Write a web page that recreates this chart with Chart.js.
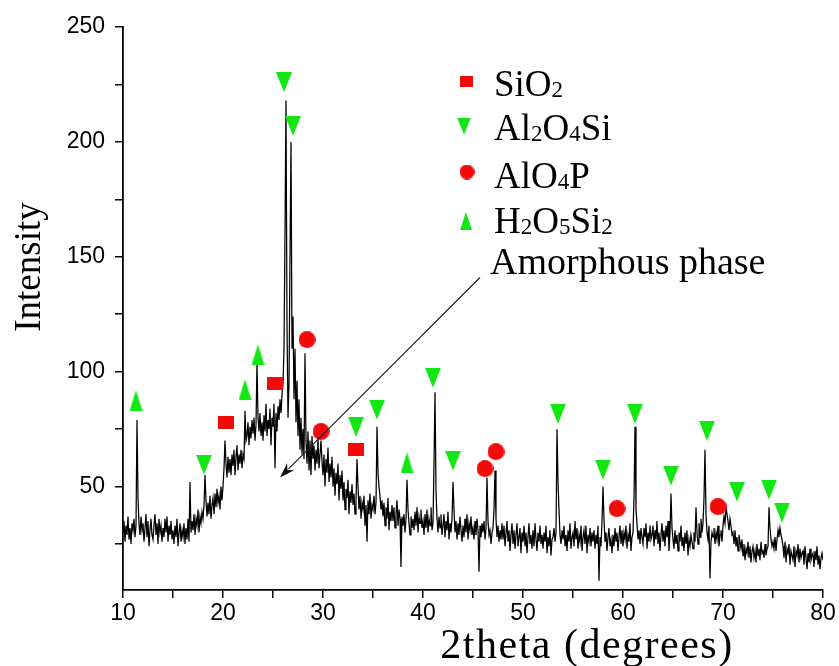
<!DOCTYPE html>
<html><head><meta charset="utf-8">
<script src="https://cdn.jsdelivr.net/npm/chart.js@4.4.1/dist/chart.umd.min.js"></script>
<style>html,body{margin:0;padding:0;background:#fff}canvas{display:block}</style>
</head><body>
<canvas id="c" width="839" height="666"></canvas>
<script>
// ---- data ----
const twoTheta = [
10,10.1,10.2,10.3,10.4,10.5,10.6,10.7,10.8,10.9, 11,11.1,11.2,11.3,11.4,11.5,11.6,11.7,11.8,11.9,
12,12.1,12.2,12.3,12.4,12.5,12.6,12.7,12.8,12.9, 13,13.1,13.2,13.3,13.4,13.5,13.6,13.7,13.8,13.9,
14,14.1,14.2,14.3,14.4,14.5,14.6,14.7,14.8,14.9, 15,15.1,15.2,15.3,15.4,15.5,15.6,15.7,15.8,15.9,
16,16.1,16.2,16.3,16.4,16.5,16.6,16.7,16.8,16.9, 17,17.1,17.2,17.3,17.4,17.5,17.6,17.7,17.8,17.9,
18,18.1,18.2,18.3,18.4,18.5,18.6,18.7,18.8,18.9, 19,19.1,19.2,19.3,19.4,19.5,19.6,19.7,19.8,19.9,
20,20.1,20.2,20.3,20.4,20.5,20.6,20.7,20.8,20.9, 21,21.1,21.2,21.3,21.4,21.5,21.6,21.7,21.8,21.9,
22,22.1,22.2,22.3,22.4,22.5,22.6,22.7,22.8,22.9, 23,23.1,23.2,23.3,23.4,23.5,23.6,23.7,23.8,23.9,
24,24.1,24.2,24.3,24.4,24.5,24.6,24.7,24.8,24.9, 25,25.1,25.2,25.3,25.4,25.5,25.6,25.7,25.8,25.9,
26,26.1,26.2,26.3,26.4,26.5,26.6,26.7,26.8,26.9, 27,27.1,27.2,27.3,27.4,27.5,27.6,27.7,27.8,27.9,
28,28.1,28.2,28.3,28.4,28.5,28.6,28.7,28.8,28.9, 29,29.1,29.2,29.3,29.4,29.5,29.6,29.7,29.8,29.9,
30,30.1,30.2,30.3,30.4,30.5,30.6,30.7,30.8,30.9, 31,31.1,31.2,31.3,31.4,31.5,31.6,31.7,31.8,31.9,
32,32.1,32.2,32.3,32.4,32.5,32.6,32.7,32.8,32.9, 33,33.1,33.2,33.3,33.4,33.5,33.6,33.7,33.8,33.9,
34,34.1,34.2,34.3,34.4,34.5,34.6,34.7,34.8,34.9, 35,35.1,35.2,35.3,35.4,35.5,35.6,35.7,35.8,35.9,
36,36.1,36.2,36.3,36.4,36.5,36.6,36.7,36.8,36.9, 37,37.1,37.2,37.3,37.4,37.5,37.6,37.7,37.8,37.9,
38,38.1,38.2,38.3,38.4,38.5,38.6,38.7,38.8,38.9, 39,39.1,39.2,39.3,39.4,39.5,39.6,39.7,39.8,39.9,
40,40.1,40.2,40.3,40.4,40.5,40.6,40.7,40.8,40.9, 41,41.1,41.2,41.3,41.4,41.5,41.6,41.7,41.8,41.9,
42,42.1,42.2,42.3,42.4,42.5,42.6,42.7,42.8,42.9, 43,43.1,43.2,43.3,43.4,43.5,43.6,43.7,43.8,43.9,
44,44.1,44.2,44.3,44.4,44.5,44.6,44.7,44.8,44.9, 45,45.1,45.2,45.3,45.4,45.5,45.6,45.7,45.8,45.9,
46,46.1,46.2,46.3,46.4,46.5,46.6,46.7,46.8,46.9, 47,47.1,47.2,47.3,47.4,47.5,47.6,47.7,47.8,47.9,
48,48.1,48.2,48.3,48.4,48.5,48.6,48.7,48.8,48.9, 49,49.1,49.2,49.3,49.4,49.5,49.6,49.7,49.8,49.9,
50,50.1,50.2,50.3,50.4,50.5,50.6,50.7,50.8,50.9, 51,51.1,51.2,51.3,51.4,51.5,51.6,51.7,51.8,51.9,
52,52.1,52.2,52.3,52.4,52.5,52.6,52.7,52.8,52.9, 53,53.1,53.2,53.3,53.4,53.5,53.6,53.7,53.8,53.9,
54,54.1,54.2,54.3,54.4,54.5,54.6,54.7,54.8,54.9, 55,55.1,55.2,55.3,55.4,55.5,55.6,55.7,55.8,55.9,
56,56.1,56.2,56.3,56.4,56.5,56.6,56.7,56.8,56.9, 57,57.1,57.2,57.3,57.4,57.5,57.6,57.7,57.8,57.9,
58,58.1,58.2,58.3,58.4,58.5,58.6,58.7,58.8,58.9, 59,59.1,59.2,59.3,59.4,59.5,59.6,59.7,59.8,59.9,
60,60.1,60.2,60.3,60.4,60.5,60.6,60.7,60.8,60.9, 61,61.1,61.2,61.3,61.4,61.5,61.6,61.7,61.8,61.9,
62,62.1,62.2,62.3,62.4,62.5,62.6,62.7,62.8,62.9, 63,63.1,63.2,63.3,63.4,63.5,63.6,63.7,63.8,63.9,
64,64.1,64.2,64.3,64.4,64.5,64.6,64.7,64.8,64.9, 65,65.1,65.2,65.3,65.4,65.5,65.6,65.7,65.8,65.9,
66,66.1,66.2,66.3,66.4,66.5,66.6,66.7,66.8,66.9, 67,67.1,67.2,67.3,67.4,67.5,67.6,67.7,67.8,67.9,
68,68.1,68.2,68.3,68.4,68.5,68.6,68.7,68.8,68.9, 69,69.1,69.2,69.3,69.4,69.5,69.6,69.7,69.8,69.9,
70,70.1,70.2,70.3,70.4,70.5,70.6,70.7,70.8,70.9, 71,71.1,71.2,71.3,71.4,71.5,71.6,71.7,71.8,71.9,
72,72.1,72.2,72.3,72.4,72.5,72.6,72.7,72.8,72.9, 73,73.1,73.2,73.3,73.4,73.5,73.6,73.7,73.8,73.9,
74,74.1,74.2,74.3,74.4,74.5,74.6,74.7,74.8,74.9, 75,75.1,75.2,75.3,75.4,75.5,75.6,75.7,75.8,75.9,
76,76.1,76.2,76.3,76.4,76.5,76.6,76.7,76.8,76.9, 77,77.1,77.2,77.3,77.4,77.5,77.6,77.7,77.8,77.9,
78,78.1,78.2,78.3,78.4,78.5,78.6,78.7,78.8,78.9, 79,79.1,79.2,79.3,79.4,79.5,79.6,79.7,79.8,79.9,
80
];
const intensity = [
30,35,26,33,29,37,27,32,25,34, 31,36,28,33,79,45,34,29,37,31,
34,26,32,38,28,35,24,31,36,29, 27,33,38,29,34,25,36,30,33,26,
32,28,36,30,37,26,33,29,35,27, 31,25,33,28,36,24,30,34,26,31,
28,34,25,32,27,36,26,52,30,35, 31,38,29,36,33,40,30,37,34,39,
36,42,55,44,37,43,38,46,36,42, 45,38,47,41,49,43,46,40,50,44,
50,58,70,60,54,63,56,62,55,64, 59,66,55,63,68,57,64,60,66,58,
64,62,83,70,72,78,68,76,71,79, 73,80,70,77,104,80,74,82,72,78,
70,81,74,86,72,79,75,84,68,80, 76,86,58,82,74,85,79,88,82,90,
95,110,160,218,120,80,95,150,200,110, 124,88,110,78,96,72,88,66,80,64,
75,62,108,70,60,74,57,70,55,72, 62,68,57,66,60,71,58,64,70,61,
55,64,50,62,56,67,52,60,54,63, 50,58,46,56,51,60,44,55,49,57,
44,52,40,49,45,53,38,48,43,51, 42,47,38,44,62,50,40,46,36,43,
40,46,33,42,26,44,38,47,36,42, 40,46,38,43,76,56,50,46,40,44,
37,43,33,41,36,45,31,39,35,42, 35,41,32,38,44,33,40,36,15,37,
33,38,30,36,53,40,34,29,37,32, 36,31,39,33,41,30,37,34,40,32,
35,29,38,32,40,30,36,33,41,31, 34,60,91,48,36,30,37,32,38,29,
33,38,28,35,31,39,27,34,30,36, 52,40,30,35,27,34,29,37,31,26,
33,28,36,30,38,27,34,31,37,29, 32,27,35,29,36,31,13,33,28,34,
30,35,27,32,54,35,29,31,25,30, 32,40,57,36,28,33,26,31,27,34,
27,33,24,30,35,26,31,22,29,34, 25,31,23,29,34,24,28,32,21,30,
26,33,24,30,21,28,34,25,29,23, 31,24,34,27,22,30,26,33,25,29,
23,30,26,33,21,28,24,31,20,27, 28,32,26,30,75,52,40,29,25,31,
27,33,24,29,22,31,26,34,23,28, 30,24,35,27,32,23,29,26,33,22,
28,31,25,33,21,29,26,32,24,30, 26,31,23,29,25,33,9,28,24,35,
50,36,26,30,22,28,32,24,27,21, 29,24,32,26,30,22,28,33,25,31,
24,30,27,33,23,29,26,34,22,28, 30,45,76,40,34,27,31,25,32,28,
25,32,28,34,23,30,26,33,27,29, 33,24,31,27,35,25,30,22,29,34,
26,31,24,33,28,35,22,30,47,32, 27,23,31,25,29,22,30,26,33,24,
28,22,30,25,31,20,27,24,29,26, 23,30,26,41,30,25,34,28,36,30,
34,45,66,38,30,27,33,10,26,30, 28,32,25,30,27,33,24,29,31,26,
33,37,34,41,38,35,31,36,33,29, 30,25,31,24,28,22,29,26,23,27,
20,25,18,23,21,26,19,24,17,22, 24,19,22,17,25,20,23,18,26,21,
22,19,25,20,23,24,41,32,27,24, 26,23,28,22,27,31,28,32,29,27,
24,19,26,17,23,21,25,16,22,20, 18,24,15,22,20,25,17,23,19,21,
22,16,24,19,14,21,17,23,18,20, 21,15,22,18,24,16,20,14,19,21,
18
];
// phase markers (2theta, intensity)
const sio2X = [20.3, 25.2, 33.3];
const sio2Y = [78, 95, 66];
const al2o4siX = [18.1, 26.1, 27.0, 33.3, 35.4, 41.0, 43.0, 53.5, 58.0, 61.2, 64.8, 68.4, 71.4, 74.6, 75.9];
const al2o4siY = [59.6, 226, 207, 76, 83.5, 97.4, 61.3, 81.7, 57.4, 81.7, 54.8, 74.3, 47.8, 48.7, 38.7];
const alo4pX = [28.4, 29.8, 46.2, 47.3, 59.4, 69.5];
const alo4pY = [114, 74, 57.8, 65.2, 40.4, 41.3];
const h2o5si2X = [11.3, 22.2, 23.5, 38.4];
const h2o5si2Y = [87.4, 92.2, 107.4, 60.4];
// tick values
const xTickValues = [10,15,20,25,30,35,40,45,50,55,60,65,70,75,80];
const yTickValues = [25,50,75,100,125,150,175,200,225,250];
// text
const xTitle = '2theta (degrees)';
const yTitle = 'Intensity';
const amorphousLabel = 'Amorphous phase';
const amorphousFrom = {x: 45.7, y: 141};   // arrow tail (data units)
const amorphousTo = {x: 25.7, y: 54};      // arrow head (data units)
const legendItems = [
  {shape: 'rect', parts: [['SiO', 0], ['2', 1]]},
  {shape: 'down', parts: [['Al', 0], ['2', 1], ['O', 0], ['4', 1], ['Si', 0]]},
  {shape: 'circle', parts: [['AlO', 0], ['4', 1], ['P', 0]]},
  {shape: 'up', parts: [['H', 0], ['2', 1], ['O', 0], ['5', 1], ['Si', 0], ['2', 1]]}
];

const RED = '#f50a0a';
const GREEN = '#14e614';

function makeMarker(shape, color, w, h) {
  const c = document.createElement('canvas');
  c.width = w; c.height = h;
  const g = c.getContext('2d');
  g.fillStyle = color;
  g.beginPath();
  if (shape === 'rect') { g.rect(0, 0, w, h); }
  else if (shape === 'circle') { g.arc(w / 2, h / 2, w / 2, 0, Math.PI * 2); }
  else if (shape === 'down') { g.moveTo(0, 0); g.lineTo(w, 0); g.lineTo(w / 2, h); g.closePath(); }
  else if (shape === 'up') { g.moveTo(w / 2, 0); g.lineTo(w, h); g.lineTo(0, h); g.closePath(); }
  g.fill();
  return c;
}
const mk = {
  rect: makeMarker('rect', RED, 16, 13),
  down: makeMarker('down', GREEN, 16, 20),
  circle: makeMarker('circle', RED, 17, 17),
  up: makeMarker('up', GREEN, 13, 21)
};
const lk = {
  rect: makeMarker('rect', RED, 13, 11),
  down: makeMarker('down', GREEN, 14, 17),
  circle: makeMarker('circle', RED, 15, 15),
  up: makeMarker('up', GREEN, 12, 18)
};

const pts = (xs, ys) => xs.map((x, i) => ({x: x, y: ys[i]}));

const overlay = {
  id: 'overlay',
  afterDraw(chart) {
    const ctx = chart.ctx;
    const xs = chart.scales.x, ys = chart.scales.y;
    ctx.save();
    ctx.fillStyle = '#000';
    // axis titles
    ctx.textAlign = 'center';
    ctx.textBaseline = 'alphabetic';
    ctx.font = '42px "Liberation Serif"';
    ctx.letterSpacing = '1.5px';
    ctx.fillText(xTitle, 587, 658);
    ctx.letterSpacing = '0px';
    ctx.save();
    ctx.translate(40, 267);
    ctx.rotate(-Math.PI / 2);
    ctx.font = '37px "Liberation Serif"';
    ctx.fillText(yTitle, 0, 0);
    ctx.restore();
    // legend
    const rowsBase = [96, 140, 188, 233];
    const markerC = [[466, 81], [464, 126], [467, 172], [466, 221]];
    ctx.textAlign = 'left';
    legendItems.forEach((it, i) => {
      const m = lk[it.shape];
      ctx.drawImage(m, markerC[i][0] - m.width / 2, markerC[i][1] - m.height / 2);
      let x = 494;
      it.parts.forEach(([t, sub]) => {
        ctx.font = sub ? '23px "Liberation Serif"' : '37px "Liberation Serif"';
        ctx.fillText(t, x, rowsBase[i] + (sub ? 1 : 0));
        x += ctx.measureText(t).width;
      });
    });
    ctx.font = '38px "Liberation Serif"';
    ctx.fillText(amorphousLabel, 490, 274);
    // arrow
    const x1 = xs.getPixelForValue(amorphousFrom.x), y1 = ys.getPixelForValue(amorphousFrom.y);
    const x2 = xs.getPixelForValue(amorphousTo.x), y2 = ys.getPixelForValue(amorphousTo.y);
    const ang = Math.atan2(y2 - y1, x2 - x1);
    const hl = 15, hw = 5;
    ctx.strokeStyle = '#222';
    ctx.lineWidth = 1.2;
    ctx.beginPath();
    ctx.moveTo(x1, y1);
    ctx.lineTo(x2 - Math.cos(ang) * hl * 0.8, y2 - Math.sin(ang) * hl * 0.8);
    ctx.stroke();
    ctx.fillStyle = '#111';
    ctx.beginPath();
    ctx.moveTo(x2, y2);
    ctx.lineTo(x2 - Math.cos(ang) * hl + Math.sin(ang) * hw, y2 - Math.sin(ang) * hl - Math.cos(ang) * hw);
    ctx.lineTo(x2 - Math.cos(ang) * hl * 0.7, y2 - Math.sin(ang) * hl * 0.7);
    ctx.lineTo(x2 - Math.cos(ang) * hl - Math.sin(ang) * hw, y2 - Math.sin(ang) * hl + Math.cos(ang) * hw);
    ctx.closePath();
    ctx.fill();
    ctx.restore();
  }
};

const tickFont = {family: '"Liberation Sans", Arial, sans-serif', size: 23};

new Chart(document.getElementById('c'), {
  type: 'line',
  data: {
    datasets: [
      {type: 'scatter', label: 'SiO2', data: pts(sio2X, sio2Y), pointStyle: mk.rect, pointRadius: 8, order: 1},
      {type: 'scatter', label: 'Al2O4Si', data: pts(al2o4siX, al2o4siY), pointStyle: mk.down, pointRadius: 8, order: 1},
      {type: 'scatter', label: 'AlO4P', data: pts(alo4pX, alo4pY), pointStyle: mk.circle, pointRadius: 8, order: 1},
      {type: 'scatter', label: 'H2O5Si2', data: pts(h2o5si2X, h2o5si2Y), pointStyle: mk.up, pointRadius: 8, order: 1},
      {type: 'line', label: 'XRD', data: pts(twoTheta, intensity), borderColor: '#000', borderWidth: 1.25,
       pointRadius: 0, tension: 0, fill: false, order: 2}
    ]
  },
  options: {
    responsive: false, animation: false, devicePixelRatio: 1,
    layout: {padding: {left: 0, top: 27, right: 16, bottom: 0}},
    plugins: {legend: {display: false}, tooltip: {enabled: false}},
    scales: {
      x: {
        type: 'linear', min: 10, max: 80,
        afterFit(s) { s.height = 76; },
        afterBuildTicks(s) { s.ticks = xTickValues.map(v => ({value: v})); },
        ticks: {autoSkip: false, maxRotation: 0, color: '#000', font: tickFont, padding: 2,
                callback: v => (v % 10 === 0 ? String(v) : '')},
        grid: {display: true, drawOnChartArea: false, drawTicks: true, tickLength: 8, color: '#000', lineWidth: 1.5},
        border: {display: true, color: '#000', width: 1.8}
      },
      y: {
        min: 5, max: 250,
        afterFit(s) { s.width = 123; },
        afterBuildTicks(s) { s.ticks = yTickValues.map(v => ({value: v})); },
        ticks: {autoSkip: false, color: '#000', font: tickFont, padding: 10,
                callback: v => (v % 50 === 0 ? String(v) : '')},
        grid: {display: true, drawOnChartArea: false, drawTicks: true, tickLength: 8, color: '#000', lineWidth: 1.5},
        border: {display: true, color: '#000', width: 1.8}
      }
    }
  },
  plugins: [overlay]
});
</script>
</body></html>
